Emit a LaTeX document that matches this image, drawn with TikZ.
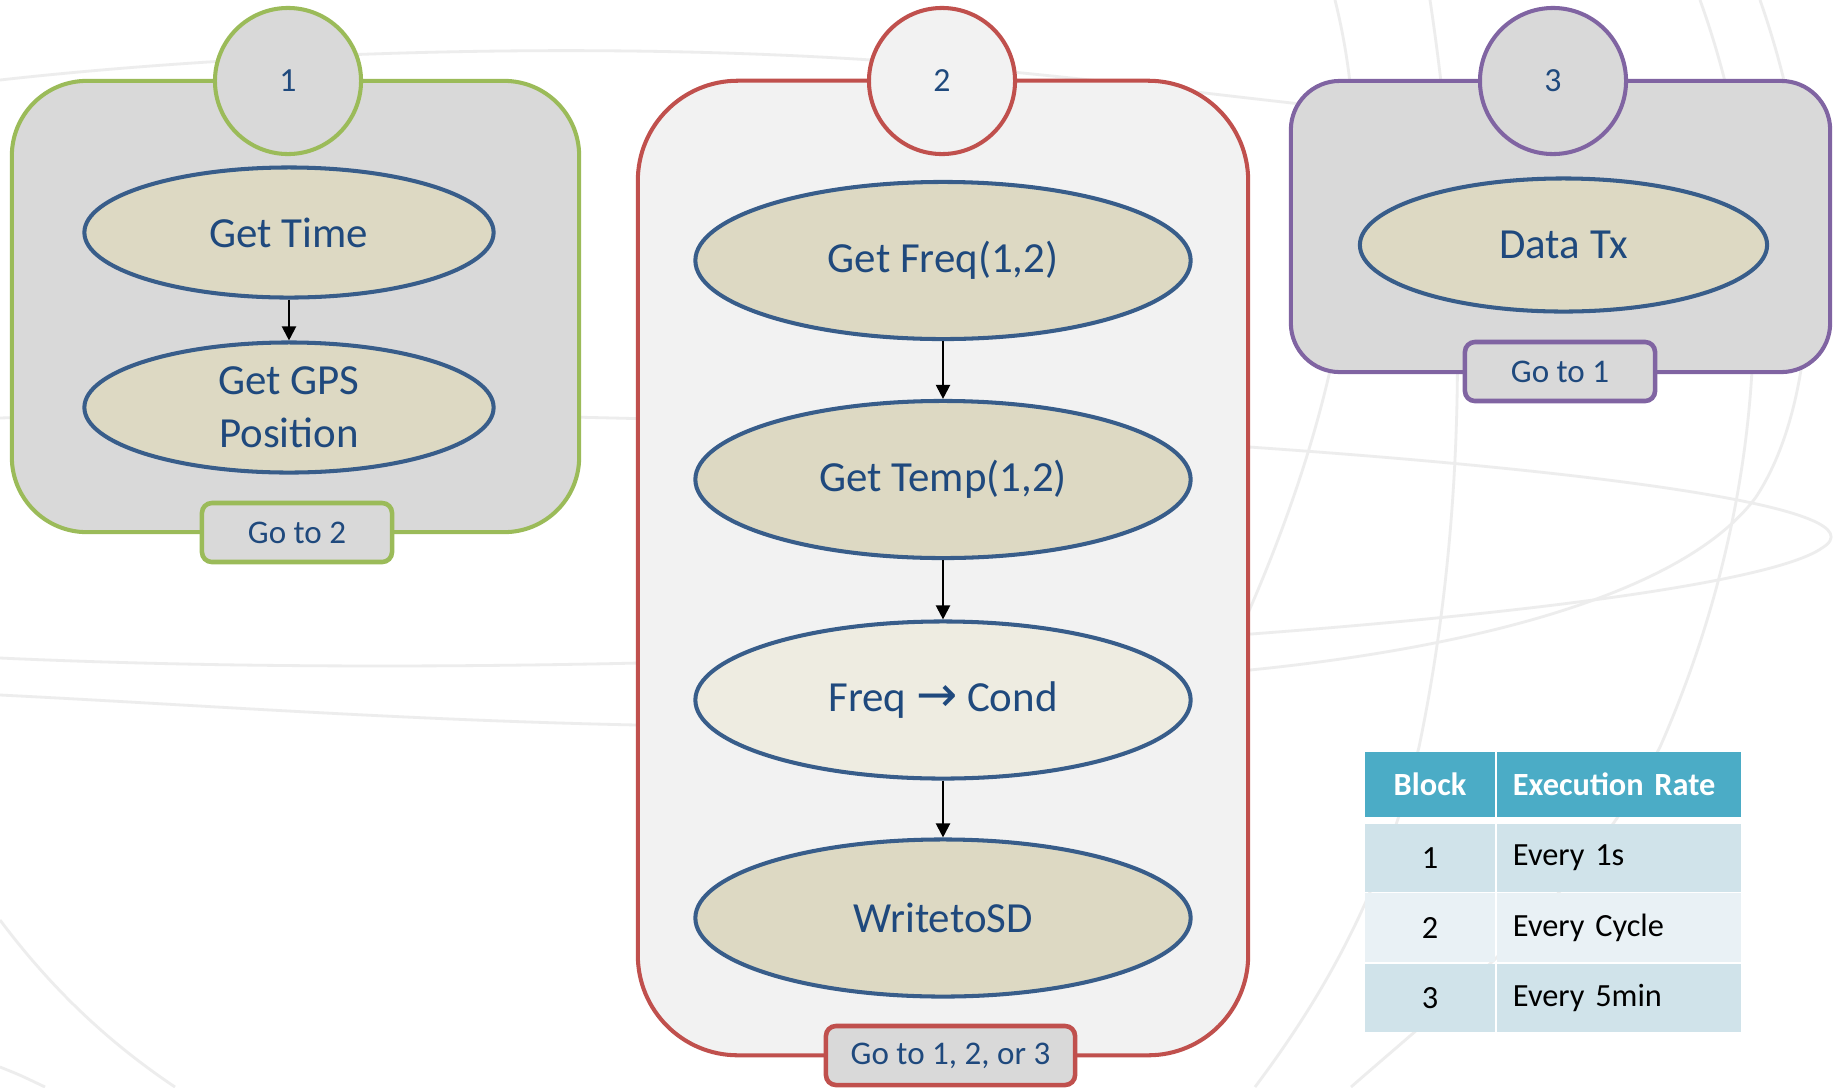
\documentclass[tikz,border=0pt]{standalone}
\usepackage{fontspec}
\setmainfont{Carlito}
\newfontfamily\arrowfont{DejaVu Sans}
\usetikzlibrary{shapes.geometric, arrows.meta}

\definecolor{swirl}{HTML}{EDEDED}
\definecolor{grayA}{HTML}{D9D9D9}
\definecolor{grayB}{HTML}{F2F2F2}
\definecolor{blockgreen}{HTML}{9BBB59}
\definecolor{blockred}{HTML}{C0504D}
\definecolor{blockpurple}{HTML}{8064A2}
\definecolor{taskfill}{HTML}{DDD9C3}
\definecolor{tasklight}{HTML}{EEECE1}
\definecolor{taskline}{HTML}{385D8A}
\definecolor{navy}{HTML}{1F497D}
\definecolor{tablehead}{HTML}{4BACC6}
\definecolor{rowdark}{HTML}{D0E3EA}
\definecolor{rowlight}{HTML}{E9F1F5}

\begin{document}
\begin{tikzpicture}[x=0.01cm, y=-0.01cm]
    % Define styles
    \tikzstyle{swoosh} = [draw=swirl, line width=0.8pt]
    \tikzstyle{block} = [draw, line width=1.15pt, inner sep=0pt]
    \tikzstyle{badge} = [draw, circle, line width=1.15pt, minimum size=1.46cm, inner sep=0pt, text=navy, font=\fontsize{9.6}{11}\selectfont]
    \tikzstyle{task} = [ellipse, draw=taskline, fill=taskfill, line width=1.15pt, inner sep=0pt, align=center, text=navy, font=\fontsize{12.2}{15}\selectfont]
    \tikzstyle{goto} = [draw, fill=grayA, line width=1.3pt, rounded corners=0.1cm, inner sep=0pt, minimum height=0.59cm, text=navy, font=\fontsize{9.4}{11}\selectfont]
    \tikzstyle{flow} = [-{Triangle[length=4pt, width=4pt]}, line width=0.6pt]
    \tikzstyle{cell} = [inner sep=0pt, minimum height=0.68cm, font=\fontsize{9.2}{11}\selectfont]
    \tikzstyle{numcell} = [cell, minimum width=1.30cm]
    \tikzstyle{ratecell} = [cell, text width=2.12cm, inner xsep=0.16cm, align=left]

    \path[use as bounding box, fill=white] (0,0) rectangle (1839,1087);

    % Background swirls
    \draw[swoosh] (0,80) .. controls (250,52) and (600,40) .. (900,62) .. controls (1100,78) and (1250,100) .. (1360,110);
    \draw[swoosh] (0,418) .. controls (700,395) and (1950,470) .. (1822,548) .. controls (1720,620) and (700,690) .. (0,658);
    \draw[swoosh] (1760,0) .. controls (1830,200) and (1820,400) .. (1756,497) .. controls (1680,600) and (1450,650) .. (1250,670) .. controls (1000,700) and (800,730) .. (637,725) .. controls (400,720) and (200,705) .. (0,695);
    \draw[swoosh] (1335,0) .. controls (1390,220) and (1320,450) .. (1245,620);
    \draw[swoosh] (1430,0) .. controls (1475,300) and (1460,550) .. (1419,747) .. controls (1380,900) and (1320,1000) .. (1255,1087);
    \draw[swoosh] (1700,0) .. controls (1790,250) and (1760,520) .. (1660,747) .. controls (1580,900) and (1450,1000) .. (1351,1087);
    \draw[swoosh] (0,920) .. controls (60,1000) and (120,1050) .. (175,1087);
    \draw[swoosh] (0,1067) .. controls (20,1075) .. (45,1087);

    % Blocks
    \node[block, draw=blockgreen, fill=grayA, rounded corners=0.75cm, minimum width=5.67cm, minimum height=4.51cm] (block1) at (295.5,306.5) {};
    \node[block, draw=blockred, fill=grayB, rounded corners=1.0cm, minimum width=6.10cm, minimum height=9.74cm] (block2) at (943,568) {};
    \node[block, draw=blockpurple, fill=grayA, rounded corners=0.49cm, minimum width=5.39cm, minimum height=2.91cm] (block3) at (1560.5,226.5) {};

    \node[badge, draw=blockgreen, fill=grayA] (badge1) at (288,81) {1};
    \node[badge, draw=blockred, fill=grayB] (badge2) at (942,81) {2};
    \node[badge, draw=blockpurple, fill=grayA] (badge3) at (1553,81) {3};

    % Block 1
    \node[task, minimum width=4.09cm, minimum height=1.30cm] (time) at (289,232.5) {Get Time};
    \node[task, minimum width=4.09cm, minimum height=1.30cm] (gps) at (289,407.5) {Get GPS\\Position};
    \draw[flow] (time) -- (gps);

    % Block 2
    \node[task, minimum width=4.95cm, minimum height=1.57cm] (freq) at (943,260.5) {Get Freq(1,2)};
    \node[task, minimum width=4.95cm, minimum height=1.57cm] (temp) at (943,479.5) {Get Temp(1,2)};
    \node[task, fill=tasklight, minimum width=4.95cm, minimum height=1.57cm] (cond) at (943,700) {Freq {\arrowfont\fontsize{14}{15}\selectfont →} Cond};
    \node[task, minimum width=4.95cm, minimum height=1.57cm] (sd) at (943,918) {WritetoSD};
    \foreach \a/\b in {freq/temp, temp/cond, cond/sd} {
        \draw[flow] (\a) -- (\b);
    }

    % Block 3
    \node[task, minimum width=4.07cm, minimum height=1.33cm] (datatx) at (1563.5,245) {Data Tx};

    % Jump labels
    \node[goto, draw=blockgreen, minimum width=1.90cm] (goto1) at (297,532.5) {Go to 2};
    \node[goto, draw=blockred, minimum width=2.49cm] (goto2) at (950.5,1055.5) {Go to 1, 2, or 3};
    \node[goto, draw=blockpurple, minimum width=1.90cm] (goto3) at (1560,371.5) {Go to 1};

    % Execution rate table
    \node[numcell, fill=tablehead, minimum height=0.65cm, text=white, font=\fontsize{9.2}{11}\selectfont\bfseries] (headblock) at (1430,784.5) {Block};
    \node[ratecell, fill=tablehead, minimum height=0.65cm, text=white, font=\fontsize{9.2}{11}\selectfont\bfseries] (headrate) at (1619,784.5) {Execution Rate};
    \foreach \y/\n/\rate/\shade in {858/1/Every 1s/rowdark, 927.5/2/Every Cycle/rowlight, 998/3/Every 5min/rowdark} {
        \node[numcell, fill=\shade] (num\n) at (1430,\y) {\n};
        \node[ratecell, fill=\shade] (rate\n) at (1619,\y) {\rate};
    }
\end{tikzpicture}
\end{document}
